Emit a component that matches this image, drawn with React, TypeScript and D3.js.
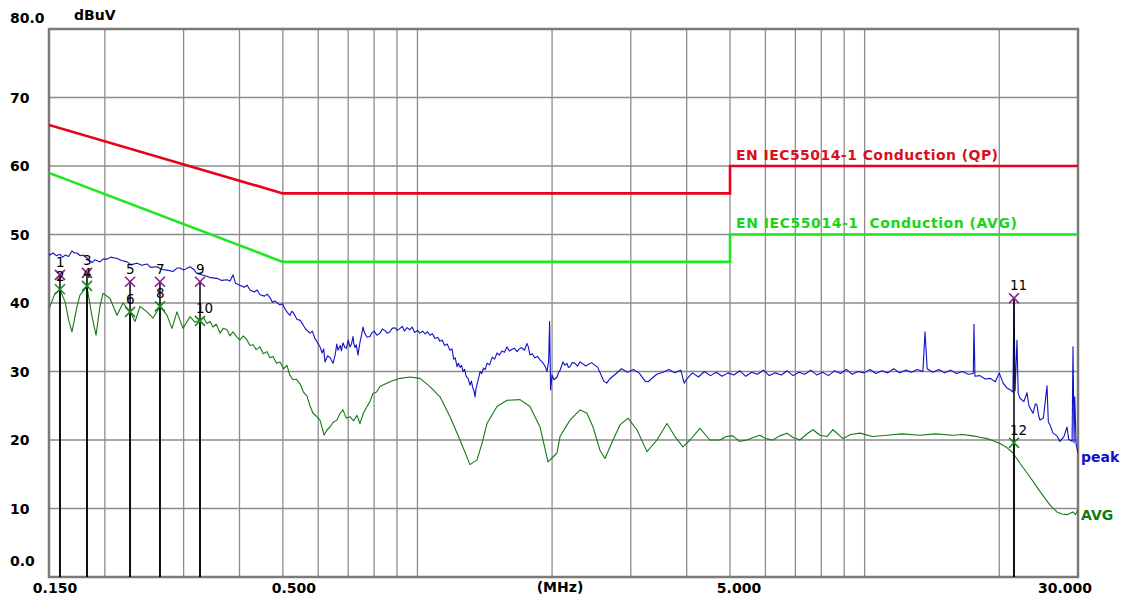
import React from 'react';
import * as d3 from 'd3';

// ---------- data ----------
const yTickValues = [0, 10, 20, 30, 40, 50, 60, 70, 80];
const yTickLabels = ['0.0', '10', '20', '30', '40', '50', '60', '70', '80.0'];
const gridFreqs = [0.2, 0.3, 0.4, 0.5, 0.6, 0.7, 0.8, 0.9, 1, 2, 3, 4, 5, 6, 7, 8, 9, 10, 20];
const xTickFreqs = [0.15, 0.5, 5, 30];
const xTickLabels = ['0.150', '0.500', '5.000', '30.000'];

const qpLimit: [number, number][] = [[0.15, 66], [0.5, 56], [5, 56], [5, 60], [30, 60]];
const avgLimit: [number, number][] = [[0.15, 59], [0.5, 46], [5, 46], [5, 50], [30, 50]];
const qpLimitLabel = 'EN IEC55014-1 Conduction (QP)';
const avgLimitLabel = 'EN IEC55014-1  Conduction (AVG)';

const peakTrace: [number, number][] = [
  [0.150, 47.2], [0.1508, 47.0], [0.153, 47.3], [0.156, 46.9], [0.1587, 47.1], [0.161, 46.7], [0.163, 47.0],
  [0.166, 46.8], [0.1688, 47.6], [0.171, 47.3], [0.1733, 47.3], [0.176, 46.9], [0.1787, 47.0], [0.182, 46.6],
  [0.185, 46.2], [0.1872, 45.9], [0.190, 46.3], [0.195, 46.0], [0.198, 46.4], [0.2022, 46.4], [0.206, 46.7],
  [0.2129, 46.5], [0.218, 46.2], [0.2242, 46.0], [0.229, 45.6], [0.236, 45.8], [0.242, 45.5], [0.2485, 45.7],
  [0.253, 45.2], [0.2616, 45.3], [0.268, 44.9], [0.2755, 44.8], [0.284, 44.6], [0.290, 45.1], [0.2944, 45.1],
  [0.300, 44.8], [0.310, 45.3], [0.316, 44.9], [0.3214, 44.3], [0.330, 44.1], [0.3383, 43.9], [0.345, 43.7],
  [0.3562, 43.6], [0.365, 43.3], [0.375, 43.4], [0.381, 43.2], [0.3868, 44.1], [0.392, 42.9], [0.401, 42.6],
  [0.410, 42.3], [0.416, 42.6], [0.4222, 41.9], [0.432, 41.6], [0.438, 41.9], [0.4445, 41.2], [0.455, 41.0],
  [0.461, 41.3], [0.468, 40.8], [0.474, 40.1], [0.480, 40.3], [0.4927, 39.7], [0.499, 39.9], [0.505, 39.2],
  [0.512, 38.6], [0.5188, 38.2], [0.524, 38.8], [0.530, 38.4], [0.538, 37.6], [0.5462, 37.5], [0.555, 36.8],
  [0.562, 36.2], [0.5751, 35.6], [0.582, 35.9], [0.590, 34.8], [0.598, 34.2], [0.6055, 33.6], [0.612, 32.7],
  [0.617, 33.3], [0.6213, 31.4], [0.626, 31.9], [0.630, 32.3], [0.638, 32.0], [0.6474, 31.2], [0.651, 31.8],
  [0.655, 32.5], [0.660, 34.0], [0.6642, 33.1], [0.672, 33.8], [0.676, 33.0], [0.6815, 34.2], [0.688, 33.5],
  [0.694, 33.4], [0.700, 34.6], [0.7066, 33.6], [0.712, 34.0], [0.7176, 35.1], [0.721, 34.0], [0.725, 33.5],
  [0.730, 33.9], [0.7363, 32.4], [0.741, 33.6], [0.745, 34.5], [0.750, 35.3], [0.7554, 36.5], [0.760, 35.8],
  [0.765, 35.4], [0.772, 35.0], [0.7832, 35.1], [0.790, 35.6], [0.800, 35.9], [0.812, 35.3], [0.8246, 35.6],
  [0.835, 36.2], [0.845, 36.0], [0.856, 35.6], [0.868, 35.8], [0.878, 36.3], [0.890, 36.4], [0.902, 36.0],
  [0.9141, 36.3], [0.925, 36.6], [0.935, 35.9], [0.948, 36.4], [0.9624, 36.1], [0.973, 36.5], [0.985, 35.7],
  [1.0, 36.0], [1.0132, 35.6], [1.027, 35.9], [1.04, 35.5], [1.053, 35.8], [1.0668, 35.3], [1.08, 35.5],
  [1.095, 34.8], [1.11, 35.0], [1.1231, 34.4], [1.136, 34.6], [1.15, 33.8], [1.166, 34.0], [1.1826, 33.1],
  [1.195, 33.3], [1.205, 31.8], [1.215, 32.0], [1.226, 30.7], [1.235, 31.2], [1.245, 30.6], [1.255, 30.9],
  [1.2647, 30.0], [1.275, 30.3], [1.285, 29.3], [1.298, 29.0], [1.3109, 28.0], [1.32, 28.6], [1.33, 27.6],
  [1.338, 27.2], [1.345, 26.3], [1.352, 27.5], [1.36, 28.2], [1.37, 29.0], [1.3801, 30.0], [1.392, 29.7],
  [1.405, 30.5], [1.418, 30.3], [1.4305, 31.2], [1.45, 31.0], [1.47, 32.1], [1.488, 31.8], [1.5062, 32.7],
  [1.525, 32.4], [1.545, 33.0], [1.565, 32.8], [1.586, 33.6], [1.605, 33.0], [1.625, 33.2], [1.647, 33.4],
  [1.6695, 32.9], [1.69, 33.3], [1.71, 33.5], [1.735, 33.1], [1.7577, 34.1], [1.77, 33.6], [1.785, 32.4],
  [1.805, 32.6], [1.83, 32.0], [1.855, 32.2], [1.8797, 31.7], [1.90, 31.4], [1.92, 31.0], [1.935, 30.6],
  [1.9485, 30.0], [1.965, 31.5], [1.975, 37.3], [1.985, 27.3], [2.0, 29.5], [2.02, 28.8], [2.0516, 29.2],
  [2.07, 29.9], [2.085, 30.2], [2.10, 30.8], [2.1159, 31.4], [2.135, 30.9], [2.1597, 31.2], [2.175, 30.6],
  [2.1933, 30.7], [2.22, 31.3], [2.25, 31.2], [2.28, 30.8],
  [2.31, 31.4], [2.38, 30.8], [2.45, 31.3], [2.53, 30.6], [2.61, 28.6], [2.65, 28.3], [2.69, 28.9],
  [2.77, 29.6], [2.86, 30.4], [2.95, 29.9], [3.04, 30.3], [3.13, 29.8], [3.23, 28.6], [3.28, 28.5],
  [3.33, 28.9], [3.43, 29.6], [3.54, 29.9], [3.65, 30.3], [3.76, 29.8], [3.88, 30.2], [3.95, 28.3],
  [4.0, 28.9], [4.12, 29.8], [4.25, 29.2], [4.38, 30.0], [4.52, 29.4], [4.66, 29.9], [4.8, 29.3],
  [4.95, 29.8], [5.1, 29.5], [5.26, 30.1], [5.42, 29.3], [5.59, 29.9], [5.76, 29.6], [5.94, 30.2],
  [6.12, 29.4], [6.31, 29.8], [6.51, 29.5], [6.71, 30.1], [6.92, 29.4], [7.13, 29.9], [7.35, 29.6],
  [7.58, 30.2], [7.81, 29.5], [8.05, 29.9], [8.3, 29.4], [8.56, 30.1], [8.83, 29.7], [9.1, 30.3],
  [9.38, 29.6], [9.67, 30.0], [9.97, 29.8], [10.28, 30.3], [10.6, 29.7], [10.93, 30.1], [11.27, 29.8],
  [11.62, 30.4], [11.98, 29.8], [12.35, 30.2], [12.73, 29.9], [13.12, 30.3], [13.5, 30.0], [13.646, 35.8],
  [13.8, 30.4], [14.2, 29.9], [14.65, 30.3], [15.1, 29.8], [15.57, 30.2], [16.05, 29.7], [16.55, 30.0],
  [17.06, 29.6], [17.5, 29.7], [17.56, 36.9], [17.65, 29.3], [18.1, 29.4], [18.6, 28.9], [19.1, 29.0],
  [19.6, 28.5], [20.0, 29.8], [20.4, 28.3], [20.8, 27.6], [21.2, 27.3],
  [21.465, 27.0], [21.576, 40.7], [21.7, 27.2], [21.912, 34.6], [22.05, 26.8], [22.254, 26.1],
  [22.7, 25.6], [23.072, 26.9], [23.3, 25.0], [23.796, 23.9], [24.1, 25.3], [24.29, 25.1], [24.5, 23.5],
  [24.666, 22.9], [25.1, 23.2], [25.574, 27.9], [25.75, 22.6], [25.973, 22.2], [26.378, 21.0], [26.921, 20.6],
  [27.341, 19.8], [27.9, 20.5], [28.349, 21.9], [28.6, 20.1], [29.1, 19.8], [29.238, 33.6], [29.4, 19.6],
  [29.5, 26.3], [29.7, 19.5], [30.0, 18.1],
];

const avgTrace: [number, number][] = [
  [0.150, 39.3], [0.1508, 39.5], [0.1547, 41.4], [0.1587, 41.9], [0.1629, 40.2], [0.166, 37.5], [0.1688, 35.8],
  [0.1733, 39.5], [0.176, 41.2], [0.1824, 42.4], [0.1872, 38.0], [0.1911, 35.3], [0.195, 39.5], [0.1981, 41.4],
  [0.2053, 40.7], [0.2129, 38.2], [0.2196, 40.0], [0.2277, 38.7], [0.2336, 37.3], [0.2397, 39.5], [0.2485, 38.7],
  [0.2563, 37.8], [0.2657, 39.5], [0.2755, 38.2], [0.2825, 36.3], [0.2899, 38.7], [0.299, 36.3], [0.310, 38.0],
  [0.318, 37.2], [0.3264, 37.5], [0.332, 37.9], [0.3383, 37.0], [0.344, 37.3], [0.3489, 36.5], [0.355, 36.9],
  [0.3618, 35.6], [0.368, 36.3], [0.375, 36.1], [0.381, 35.2], [0.3868, 35.8], [0.394, 35.1], [0.401, 34.6],
  [0.408, 35.2], [0.4158, 34.6], [0.422, 33.8], [0.4288, 33.9], [0.436, 33.2], [0.4445, 33.6], [0.452, 32.6],
  [0.4608, 32.9], [0.468, 32.0], [0.4753, 32.2], [0.484, 31.2], [0.4927, 31.4], [0.502, 30.4], [0.5108, 30.9],
  [0.518, 29.5], [0.5268, 28.8], [0.536, 28.9], [0.5462, 28.2], [0.556, 27.0], [0.5663, 26.4], [0.575, 25.0],
  [0.584, 23.9], [0.594, 23.5], [0.6055, 22.9], [0.612, 21.8], [0.6181, 20.7], [0.628, 21.5], [0.6375, 21.9],
  [0.648, 22.6], [0.6608, 22.9], [0.670, 23.8], [0.6815, 24.4], [0.693, 23.2], [0.7066, 23.4], [0.720, 22.8],
  [0.7325, 23.6], [0.7438, 22.4], [0.757, 23.9], [0.7712, 24.9], [0.783, 25.6], [0.7953, 26.8], [0.810, 27.0],
  [0.8246, 27.8], [0.868, 28.5], [0.9141, 29.0], [0.9624, 29.2], [1.0132, 29.0], [1.0668, 27.8],
  [1.1231, 26.3], [1.1826, 23.4], [1.2449, 20.0], [1.3109, 16.4], [1.3589, 17.1], [1.3943, 19.5], [1.4305, 22.4],
  [1.5062, 24.9], [1.586, 25.8], [1.6955, 25.9], [1.785, 24.9], [1.8797, 21.9], [1.9586, 16.8], [2.0516, 18.1],
  [2.0835, 20.5], [2.1933, 22.9], [2.3093, 24.4], [2.3939, 23.9], [2.4693, 21.9], [2.5596, 18.5], [2.6265, 17.3],
  [2.7371, 20.0], [2.8374, 22.2], [2.9567, 23.2], [3.0968, 21.5], [3.2604, 18.3], [3.4326, 20.0], [3.6135, 22.4],
  [3.7658, 20.5], [3.924, 19.0], [4.0683, 20.0], [4.2827, 21.7], [4.5092, 20.0], [4.75, 20.0], [4.9, 20.5],
  [5.0759, 20.6], [5.25, 19.8], [5.4563, 20.0], [5.65, 20.4], [5.8347, 20.7], [6.0, 20.2], [6.2387, 20.0],
  [6.45, 20.6], [6.7066, 21.0], [6.9, 20.4], [7.1675, 20.0], [7.4, 20.8], [7.6647, 21.5], [7.9466, 20.7],
  [8.2386, 20.5], [8.4969, 21.5], [8.9468, 20.2], [9.3, 20.8], [9.765, 21.0], [10.4, 20.5], [11.218, 20.7],
  [12.1, 20.9], [13.299, 20.7], [14.4, 20.9], [15.76, 20.7], [16.6, 20.8], [17.469, 20.6], [18.1, 20.4],
  [18.779, 20.2], [19.4, 19.9], [20.079, 19.5], [20.8, 18.9], [21.465, 18.1], [22.254, 16.6], [23.43, 14.6],
  [24.666, 12.5], [25.973, 10.5], [26.921, 9.5], [27.6, 9.2], [28.349, 9.1], [29.238, 9.5], [29.6, 9.1],
  [30.0, 9.8],
];

const markerFreqs = [0.1587, 0.1587, 0.1824, 0.1824, 0.2277, 0.2277, 0.2656, 0.2656, 0.3264, 0.3264, 21.576, 21.576];
const markerLevels = [44.1, 42.0, 44.4, 42.5, 43.1, 38.7, 43.1, 39.5, 43.1, 37.4, 40.7, 19.6];
const markerKinds = ['QP', 'AVG', 'QP', 'AVG', 'QP', 'AVG', 'QP', 'AVG', 'QP', 'AVG', 'QP', 'AVG'];

// ---------- layout ----------
const W = 1125;
const H = 601;
const PL = 49, PR = 1078, PT = 29, PB = 577;
const FONT = 'DejaVu Sans, Verdana, sans-serif';

export default function App() {
  const x = d3.scaleLog().domain([0.15, 30]).range([PL, PR]);
  const y = d3.scaleLinear().domain([0, 80]).range([PB, PT]);
  const line = d3.line<[number, number]>().x(d => x(d[0])).y(d => y(d[1]));

  const xLabelOffsets = [6, 11, 9, -13];
  const yLabelOffset = (v: number) => (v === 80 ? -6 : v === 0 ? -11 : 5);

  return (
    <div style={{ position: 'absolute', left: 0, top: 0 }}>
      <svg width={W} height={H} style={{ display: 'block', background: '#fff' }} fontFamily={FONT}>
        <defs>
          <clipPath id="plot">
            <rect x={PL} y={PT} width={PR - PL} height={PB - PT} />
          </clipPath>
        </defs>
        {/* grid */}
        {gridFreqs.map(f => (
          <line key={'v' + f} x1={x(f)} x2={x(f)} y1={PT} y2={PB} stroke="#8c8c8c" strokeWidth={1.3} />
        ))}
        {yTickValues.filter(v => v > 0 && v < 80).map(v => (
          <line key={'h' + v} x1={PL} x2={PR} y1={y(v)} y2={y(v)} stroke="#8c8c8c" strokeWidth={1.3} />
        ))}
        <rect x={PL} y={PT} width={PR - PL} height={PB - PT} fill="none" stroke="#7a7a7a" strokeWidth={2.5} />

        {/* axis labels */}
        {yTickValues.map((v, i) => (
          <text key={'yl' + v} x={10} y={y(v) + yLabelOffset(v)} fontSize={14} fontWeight="bold" fill="#000">
            {yTickLabels[i]}
          </text>
        ))}
        <text x={74} y={20} fontSize={14} fontWeight="bold" fill="#000">dBuV</text>
        {xTickFreqs.map((f, i) => (
          <text key={'xl' + f} x={x(f) + xLabelOffsets[i]} y={593} fontSize={14} fontWeight="bold" textAnchor="middle" fill="#000">
            {xTickLabels[i]}
          </text>
        ))}
        <text x={560} y={592} fontSize={14} fontWeight="bold" textAnchor="middle" fill="#000">(MHz)</text>

        <g clipPath="url(#plot)">
          {/* limits */}
          <path d={line(qpLimit) || ''} fill="none" stroke="#e8001c" strokeWidth={2.6} />
          <path d={line(avgLimit) || ''} fill="none" stroke="#1ee81e" strokeWidth={2.6} />
          {/* traces */}
          <path d={line(avgTrace) || ''} fill="none" stroke="#127a12" strokeWidth={1.1} strokeLinejoin="round" />
          <path d={line(peakTrace) || ''} fill="none" stroke="#1010c8" strokeWidth={1.1} strokeLinejoin="round" />
        </g>

        <text x={x(5) + 6} y={160} fontSize={14} letterSpacing={0.45} fontWeight="bold" fill="#d8101e">{qpLimitLabel}</text>
        <text x={x(5) + 6} y={228} fontSize={14} letterSpacing={0.55} fontWeight="bold" fill="#19d419" style={{ whiteSpace: 'pre' }}>{avgLimitLabel}</text>

        {/* marker stems */}
        {markerFreqs.map((f, i) => (
          <line key={'ms' + i} x1={x(f)} x2={x(f)} y1={y(markerLevels[i])} y2={PB} stroke="#000" strokeWidth={1.5} />
        ))}
        {/* markers */}
        {markerFreqs.map((f, i) => {
          const cx = x(f);
          const cy = y(markerLevels[i]);
          const c = markerKinds[i] === 'QP' ? '#8a1a8a' : '#1a8a1a';
          const s = 5;
          return (
            <g key={'m' + i}>
              <line x1={cx - s} y1={cy - s} x2={cx + s} y2={cy + s} stroke={c} strokeWidth={1.6} />
              <line x1={cx - s} y1={cy + s} x2={cx + s} y2={cy - s} stroke={c} strokeWidth={1.6} />
              <text x={cx - 4} y={cy - 8} fontSize={13.5} fill="#000" fontFamily="DejaVu Sans, sans-serif">{i + 1}</text>
            </g>
          );
        })}

        <text x={PR + 3} y={462} fontSize={14} fontWeight="bold" fill="#1010c8">peak</text>
        <text x={PR + 3} y={520} fontSize={14} fontWeight="bold" fill="#127a12">AVG</text>
      </svg>
    </div>
  );
}
